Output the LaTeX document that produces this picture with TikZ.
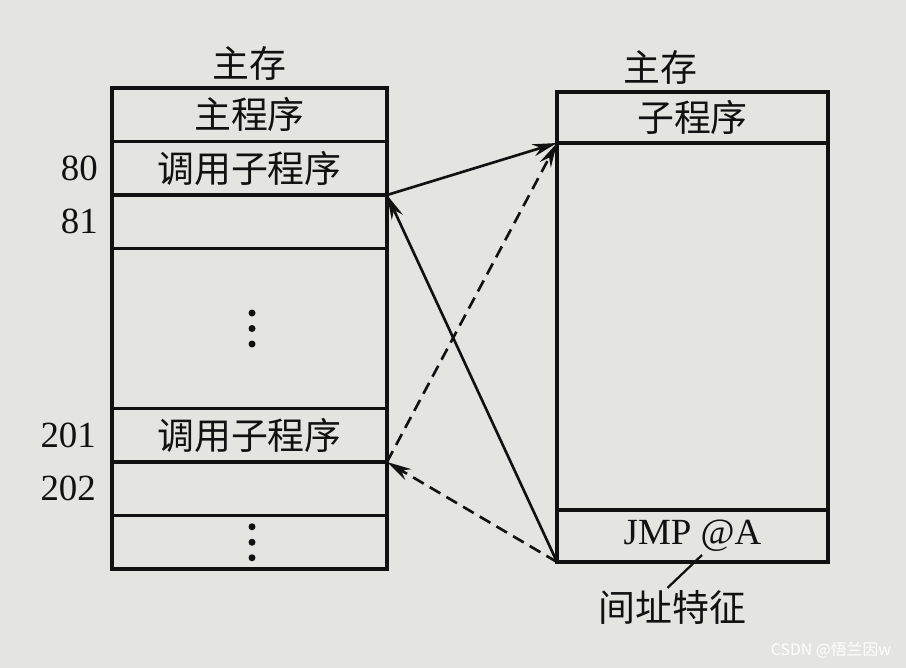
\documentclass[tikz,border=0pt]{standalone}
\usepackage{fontspec}
\setmainfont{Liberation Serif}
\newfontfamily\cjk{Noto Sans CJK SC}
\usetikzlibrary{positioning, arrows.meta, calc}
\definecolor{paper}{RGB}{228,228,225}
\definecolor{ink}{HTML}{111111}
\newcommand\memfont{\fontsize{21}{25}\selectfont}

\begin{document}
\begin{tikzpicture}[
  >=Stealth,
  every node/.style={text=ink},
  memrow/.style={
    draw=ink, line width=2.1pt, minimum width=5.5cm,
    minimum height=1.07cm, inner sep=0pt, outer sep=0pt,
    font=\cjk\memfont,
  },
  addr/.style={font=\memfont, inner sep=1pt},
  heading/.style={font=\cjk\memfont, inner sep=1pt},
  arr/.style={-{Stealth[length=14pt, width=7pt]}, line width=1.5pt, ink},
  darr/.style={arr, dash pattern=on 7pt off 4pt},
]

% paper
\fill[paper] (0,0) rectangle (18.12,-13.36);

% === MAIN MEMORY (left) ===
\node[memrow] (main) at (4.99,-2.295) {主程序};
\node[memrow, below=0pt of main] (call80) {调用子程序};
\node[memrow, below=0pt of call80] (m81) {};
\node[memrow, below=0pt of m81, minimum height=3.2cm] (gap) {};
\node[memrow, below=0pt of gap] (call201) {调用子程序};
\node[memrow, below=0pt of call201] (m202) {};
\node[memrow, below=0pt of m202] (rest) {};

\node[heading, above=0.1cm of main] (mem1) {主存};

% addresses
\node[addr, left=0.24cm of call80] (a80) {80};
\node[addr, left=0.24cm of m81] (a81) {81};
\node[addr, left=0.28cm of call201] (a201) {201};
\node[addr, left=0.28cm of m202] (a202) {202};

% dots
\foreach \blk in {gap, rest} {
  \foreach \k in {-1,0,1}
    \fill[ink] ($(\blk.center)+(0.05,\k*0.31)$) circle (0.07);
}

% === MAIN MEMORY (right) ===
\node[memrow, minimum width=5.42cm, minimum height=1.02cm] (sub) at (13.85,-2.35) {子程序};
\node[memrow, minimum width=5.42cm, minimum height=7.34cm, below=0pt of sub] (body) {};
\node[memrow, minimum width=5.42cm, minimum height=1.04cm, below=0pt of body,
  font=\memfont] (jmp) {JMP @A};

\node[heading, above=0.1cm of sub, xshift=-0.65cm] (mem2) {主存};

% indirect address mark
\node[heading] (feat) at (13.45,-12.14) {间址特征};
\coordinate (mark) at (14.04,-11.1);
\draw[line width=1.3pt, ink] ($(feat.north)+(-0.1,0)$) -- (mark);

% === CALLS AND RETURNS ===
\draw[arr] (m81.north east) -- (body.north west);
\draw[darr] (m202.north east) -- (body.north west);
\draw[arr] (jmp.south west) -- (m81.north east);
\draw[darr] (jmp.south west) -- (m202.north east);

% watermark
\node[font=\cjk\fontsize{9}{11}\selectfont, text=white] (wm) at (16.62,-13.0) {CSDN @悟兰因w};

\end{tikzpicture}
\end{document}
